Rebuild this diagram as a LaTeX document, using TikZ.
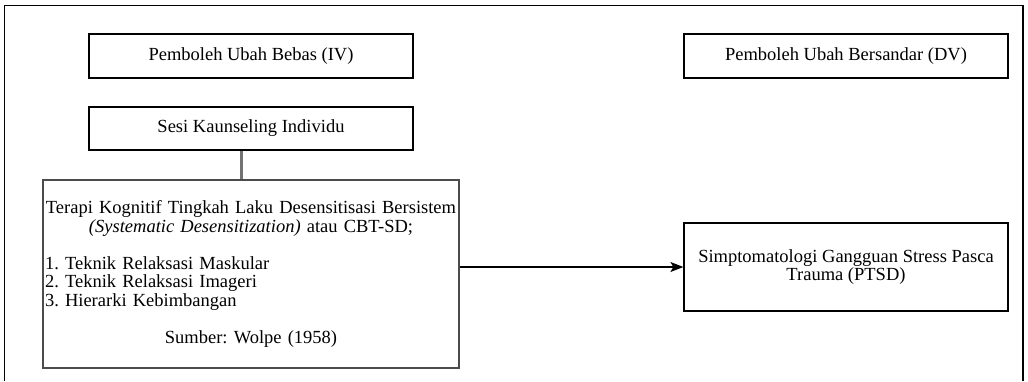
\documentclass[tikz,border=0pt]{standalone}
\usepackage{fontspec}
\setmainfont{Liberation Serif}
\usetikzlibrary{arrows.meta,positioning}
\newcommand{\boxfont}{\fontsize{18.5}{18.5}\selectfont\frenchspacing}
\tikzset{
	box/.style={draw=black, line width=1.2pt, fill=white, minimum width=324pt, minimum height=44pt, inner sep=2pt, align=center, font=\boxfont},
	bigbox/.style={box, draw=black!70, line width=2pt, minimum width=416pt, minimum height=188pt, text width=412pt, inner sep=1pt},
	frameline/.style={draw=black, line width=1.5pt},
	link/.style={draw=black!55, line width=2.5pt},
	arrow/.style={-{Stealth[length=13pt,width=10pt,inset=3pt]}, draw=black, line width=1.2pt}
}

\begin{document}
\begin{tikzpicture}[x=1pt, y=-1pt]
	\useasboundingbox (0,0) rectangle (1028,381);
	
	% frame, open at the bottom
	\draw[frameline] (4.7,381) -- (4.7,5.7) -- (1023,5.7) -- (1023,381);
	
	\node[box] (IV) at (251,56) {Pemboleh Ubah Bebas (IV)};
	\node[box, minimum height=43pt] (Sesi) at (251,128.5) {Sesi Kaunseling Individu};
	\node[bigbox] (Terapi) at (251,274) {Terapi Kognitif Tingkah Laku Desensitisasi Bersistem\\
		\textit{(Systematic Desensitization)} atau CBT-SD;\\[18.5pt]
		\makebox[\linewidth][l]{1. Teknik Relaksasi Maskular}\\
		\makebox[\linewidth][l]{2. Teknik Relaksasi Imageri}\\
		\makebox[\linewidth][l]{3. Hierarki Kebimbangan}\\[18.5pt]
		Sumber: Wolpe (1958)};
	
	\node[box] (DV) at (846,56) {Pemboleh Ubah Bersandar (DV)};
	\node[box, minimum height=88pt] (PTSD) at (846,267) {Simptomatologi Gangguan Stress Pasca\\Trauma (PTSD)};
	
	\draw[link] ([xshift=-9.3pt]Sesi.south) -- ([xshift=-9.3pt]Sesi.south |- Terapi.north);
	\draw[arrow] (Terapi.east |- PTSD.west) -- (PTSD.west);
\end{tikzpicture}
\end{document}
